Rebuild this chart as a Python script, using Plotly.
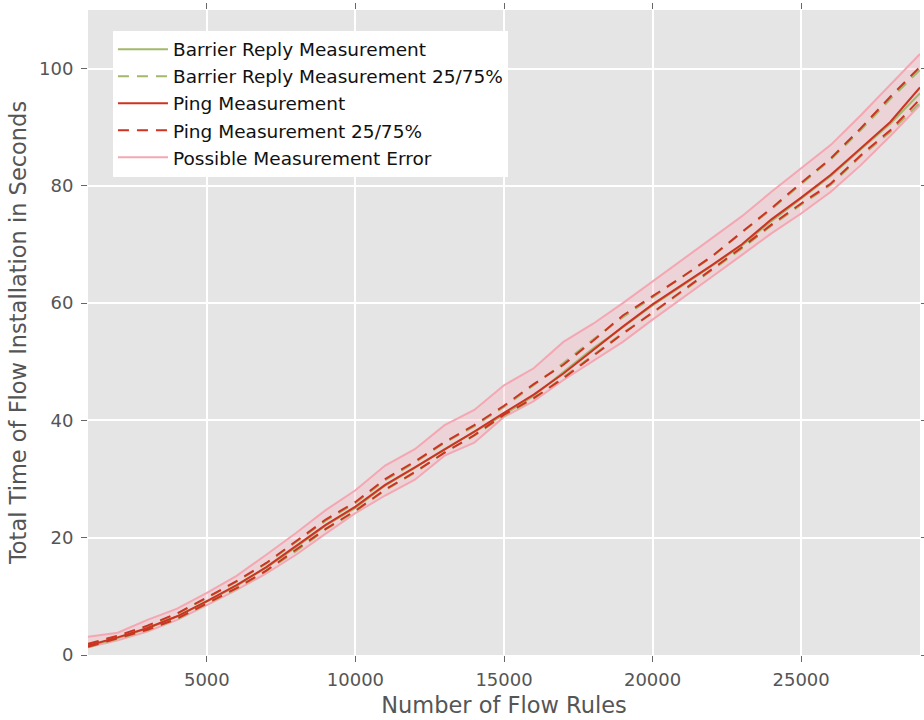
import plotly.graph_objects as go

# Number of flow rules installed per run
flow_rules = list(range(1000, 30000, 1000))

# Ping based measurement: median and quartiles (seconds)
ping_median = [1.6, 3.0, 4.6, 6.6, 9.2, 11.9, 15.0, 18.6, 22.2, 25.3,
               29.0, 32.0, 35.0, 38.1, 41.3, 44.4, 48.0, 52.0, 56.0, 59.8,
               63.1, 66.5, 70.0, 74.3, 78.0, 81.9, 86.4, 90.9, 96.8]
ping_q25 = [1.4, 2.8, 4.3, 6.2, 8.8, 11.4, 14.4, 17.9, 21.5, 24.6,
            28.2, 31.2, 34.5, 37.5, 41.0, 43.8, 47.2, 51.0, 54.8, 58.4,
            62.1, 65.8, 69.5, 73.4, 77.0, 80.4, 85.2, 89.5, 94.8]
ping_q75 = [1.9, 3.3, 5.0, 7.1, 9.8, 12.6, 15.7, 19.4, 23.1, 26.1,
            30.0, 33.0, 36.3, 39.2, 42.5, 46.2, 49.5, 53.6, 57.9, 61.2,
            64.5, 68.0, 72.1, 76.2, 80.5, 84.7, 89.8, 95.2, 100.3]

# Barrier reply based measurement: median and quartiles (seconds)
barrier_median = [1.5, 2.9, 4.5, 6.6, 9.1, 11.8, 14.9, 18.4, 22.1, 25.1,
                  28.9, 31.9, 35.1, 38.0, 41.0, 44.2, 48.2, 52.3, 55.9, 59.6,
                  63.0, 66.4, 69.8, 74.0, 77.8, 81.7, 86.2, 90.6, 95.8]
barrier_q25 = [1.3, 2.7, 4.2, 6.1, 8.7, 11.3, 14.3, 17.7, 21.4, 24.5,
               28.1, 31.1, 34.6, 37.4, 40.8, 43.7, 47.4, 51.2, 54.9, 58.3,
               62.0, 65.6, 69.3, 73.2, 76.8, 80.2, 85.0, 89.2, 94.2]
barrier_q75 = [1.8, 3.2, 4.9, 7.0, 9.7, 12.5, 15.6, 19.2, 22.9, 25.9,
               29.8, 32.8, 36.2, 39.0, 42.3, 46.0, 49.8, 53.8, 57.6, 61.0,
               64.4, 67.9, 72.0, 76.0, 80.3, 84.5, 89.5, 94.8, 99.8]

# Envelope of the possible measurement error
error_upper = [3.1, 3.8, 6.0, 7.9, 10.6, 13.5, 17.1, 20.8, 24.7, 28.1,
               32.3, 35.1, 39.2, 41.8, 46.0, 48.9, 53.4, 56.5, 60.0, 63.7,
               67.4, 71.0, 74.8, 79.0, 83.0, 87.0, 92.0, 97.2, 102.5]
error_lower = [1.3, 2.5, 4.0, 6.0, 8.5, 11.1, 13.9, 17.1, 20.7, 24.2,
               27.2, 29.9, 34.0, 36.2, 40.6, 43.3, 46.9, 50.2, 53.4, 57.2,
               60.8, 64.5, 68.2, 71.9, 75.3, 79.0, 83.5, 88.5, 93.8]

x_ticks = [5000, 10000, 15000, 20000, 25000]
y_ticks = [0, 20, 40, 60, 80, 100]

GREEN = "#a3b86c"
RED = "#cc3322"
PINK = "#f4a7b2"
DASH = "11px,8px"

fig = go.Figure()

# error band
fig.add_trace(go.Scatter(x=flow_rules, y=error_upper, mode="lines",
                         line=dict(color=PINK, width=2),
                         name="Possible Measurement Error",
                         legendgroup="err", legendrank=5))
fig.add_trace(go.Scatter(x=flow_rules, y=error_lower, mode="lines",
                         line=dict(color=PINK, width=2), fill="tonexty",
                         fillcolor="rgba(255,160,175,0.25)",
                         legendgroup="err", showlegend=False))

# barrier reply
fig.add_trace(go.Scatter(x=flow_rules, y=barrier_median, mode="lines",
                         line=dict(color=GREEN, width=2),
                         name="Barrier Reply Measurement", legendrank=1))
fig.add_trace(go.Scatter(x=flow_rules, y=barrier_q25, mode="lines",
                         line=dict(color=GREEN, width=2, dash=DASH),
                         name="Barrier Reply Measurement 25/75%",
                         legendgroup="bq", legendrank=2))
fig.add_trace(go.Scatter(x=flow_rules, y=barrier_q75, mode="lines",
                         line=dict(color=GREEN, width=2, dash=DASH),
                         legendgroup="bq", showlegend=False))

# ping
fig.add_trace(go.Scatter(x=flow_rules, y=ping_median, mode="lines",
                         line=dict(color=RED, width=2),
                         name="Ping Measurement", legendrank=3))
fig.add_trace(go.Scatter(x=flow_rules, y=ping_q25, mode="lines",
                         line=dict(color=RED, width=2, dash=DASH),
                         name="Ping Measurement 25/75%",
                         legendgroup="pq", legendrank=4))
fig.add_trace(go.Scatter(x=flow_rules, y=ping_q75, mode="lines",
                         line=dict(color=RED, width=2, dash=DASH),
                         legendgroup="pq", showlegend=False))

axis_common = dict(
    showgrid=True, gridcolor="white", gridwidth=1.5,
    zeroline=False, showline=False,
    ticks="outside", ticklen=6, tickcolor="#666666", tickwidth=1,
    mirror="ticks",
    tickfont=dict(family="DejaVu Sans", size=18, color="#555555"),
    title_font=dict(family="DejaVu Sans", size=22.5, color="#555555"),
)

fig.update_xaxes(range=[1000, 29000], tickvals=x_ticks,
                 ticktext=[str(v) for v in x_ticks],
                 title_text="Number of Flow Rules", title_standoff=8,
                 ticklabelstandoff=2, **axis_common)
fig.update_yaxes(range=[0, 110], tickvals=y_ticks,
                 ticktext=[str(v) for v in y_ticks],
                 title_text="Total Time of Flow Installation in Seconds",
                 title_standoff=6, ticklabelstandoff=4, **axis_common)

fig.update_layout(
    width=924, height=720,
    margin=dict(l=88, r=4, t=10, b=65),
    paper_bgcolor="white", plot_bgcolor="#e5e5e5",
    font=dict(family="DejaVu Sans", color="#111111"),
    legend=dict(x=0.03, y=0.968, xanchor="left", yanchor="top",
                bgcolor="white", borderwidth=0,
                font=dict(family="DejaVu Sans", size=18.5, color="#111111"),
                itemwidth=50, tracegroupgap=0,
                traceorder="normal"),
    showlegend=True,
)

fig.write_html("out.html")
